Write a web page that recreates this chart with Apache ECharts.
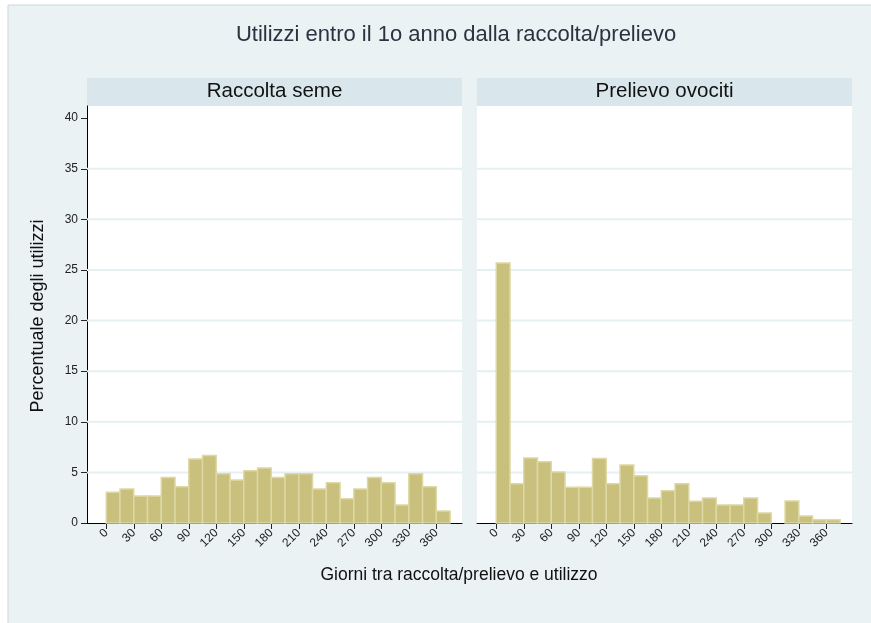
<!DOCTYPE html>
<html>
<head>
<meta charset="utf-8">
<title>Utilizzi entro il 1o anno dalla raccolta/prelievo</title>
<script src="https://cdn.jsdelivr.net/npm/echarts@6/dist/echarts.min.js"></script>
<style>
  html, body { margin: 0; padding: 0; background: #ffffff; }
  #chart { width: 871px; height: 623px; }
</style>
</head>
<body>
<div id="chart"></div>
<script>
// Histogram bins: 15-day bins starting at each value below (days)
const binStarts = [0, 15, 30, 45, 60, 75, 90, 105, 120, 135, 150, 165, 180,
                   195, 210, 225, 240, 255, 270, 285, 300, 315, 330, 345, 360];
const binWidth = 15;

// Percentage of uses per bin
const raccoltaSeme = [3.03, 3.36, 2.66, 2.66, 4.50, 3.59, 6.32, 6.68, 4.87, 4.24,
                      5.16, 5.43, 4.50, 4.87, 4.87, 3.36, 3.98, 2.40, 3.36, 4.50,
                      3.98, 1.78, 4.87, 3.59, 1.18];
const prelievoOvociti = [25.70, 3.88, 6.41, 6.05, 5.03, 3.52, 3.52, 6.38, 3.88, 5.72,
                         4.67, 2.47, 3.19, 3.88, 2.14, 2.47, 1.78, 1.78, 2.47, 0.99,
                         0, 2.17, 0.69, 0.33, 0.33];

const panelNames = ['Raccolta seme', 'Prelievo ovociti'];
const xTickValues = [0, 30, 60, 90, 120, 150, 180, 210, 240, 270, 300, 330, 360];
const yTickValues = [0, 5, 10, 15, 20, 25, 30, 35, 40];
const yGridValues = [5, 10, 15, 20, 25, 30, 35];

const FONT = '"Liberation Sans", Arial, Helvetica, sans-serif';
const BAR_FILL = '#c8c07c';
const BAR_EDGE = '#ddd8a4';
const GRID_LINE = '#e6eff1';
const BG = '#eaf2f3';
const STRIP = '#d9e6eb';

const chart = echarts.init(document.getElementById('chart'), null, { renderer: 'canvas' });

function toBins(values) {
  return binStarts.map((s, i) => [s, s + binWidth, values[i]]);
}

function renderBar(params, api) {
  const v = api.value(2);
  if (!v) return null;
  const p0 = api.coord([api.value(0), 0]);
  const p1 = api.coord([api.value(1), v]);
  return {
    type: 'rect',
    shape: { x: p0[0], y: p1[1], width: p1[0] - p0[0], height: p0[1] - p1[1] },
    style: { fill: BAR_FILL, stroke: BAR_EDGE, lineWidth: 1.5 }
  };
}

// Horizontal reference line across the whole plot region at a y value
function renderGridLine(params, api) {
  const cs = params.coordSys;
  const y = api.coord([0, api.value(0)])[1];
  return {
    type: 'line',
    shape: { x1: cs.x, y1: y, x2: cs.x + cs.width, y2: y },
    style: { stroke: GRID_LINE, lineWidth: 2 }
  };
}

const gridLefts = [87, 477];
const plotTop = 106, plotHeight = 417, plotWidth = 375;

function xAxisFor(i) {
  return {
    type: 'value', gridIndex: i, min: -21, max: 388,
    axisLine: { show: true, onZero: false, lineStyle: { color: '#000', width: 1 } },
    axisTick: { show: true, customValues: xTickValues, length: 6, lineStyle: { color: '#222' } },
    axisLabel: {
      show: true, customValues: xTickValues, rotate: 45, margin: 8,
      fontFamily: FONT, fontSize: 12, color: '#222'
    },
    splitLine: { show: false }
  };
}

function yAxisFor(i) {
  const left = i === 0;
  return {
    type: 'value', gridIndex: i, min: 0, max: 41.2, interval: 5,
    axisLine: { show: left, onZero: false, lineStyle: { color: '#000', width: 1 } },
    axisTick: { show: left, customValues: yTickValues, length: 6, lineStyle: { color: '#222' } },
    axisLabel: {
      show: left, customValues: yTickValues, margin: 9,
      fontFamily: FONT, fontSize: 12, color: '#222'
    },
    splitLine: { show: false }
  };
}

const graphics = [
  // graph region background
  { type: 'rect', z: -10, silent: true,
    shape: { x: 8, y: 5, width: 880, height: 640 },
    style: { fill: BG, stroke: '#cdd5d8', lineWidth: 1 } },
  // plot region backgrounds
  ...gridLefts.map(l => ({
    type: 'rect', z: -9, silent: true,
    shape: { x: l, y: plotTop, width: plotWidth, height: plotHeight },
    style: { fill: '#ffffff' }
  })),
  // panel header strips
  ...gridLefts.map((l, i) => ({
    type: 'group', z: -8, silent: true,
    children: [
      { type: 'rect', shape: { x: l, y: 78, width: plotWidth, height: 28 }, style: { fill: STRIP } },
      { type: 'text', style: {
          x: l + plotWidth / 2, y: 91, text: panelNames[i], align: 'center', verticalAlign: 'middle',
          fontFamily: FONT, fontSize: 20.5, fill: '#111' } }
    ]
  }))
];

const gridLineSeries = [0, 1].map(i => ({
  type: 'custom', xAxisIndex: i, yAxisIndex: i, z: 1, silent: true,
  renderItem: renderGridLine, encode: { y: 0 },
  data: yGridValues.map(v => [v])
}));

const option = {
  backgroundColor: '#ffffff',
  animation: false,
  title: [
    { text: 'Utilizzi entro il 1o anno dalla raccolta/prelievo', left: 451, top: 19, textAlign: 'center',
      textStyle: { fontFamily: FONT, fontSize: 22, fontWeight: 'normal', color: '#2a3340' } },
    { text: 'Giorni tra raccolta/prelievo e utilizzo', left: 454, top: 561, textAlign: 'center',
      textStyle: { fontFamily: FONT, fontSize: 17.5, fontWeight: 'normal', color: '#111' } }
  ],
  graphic: [
    ...graphics,
    { type: 'text', silent: true, rotation: Math.PI / 2, x: 38, y: 316,
      style: { text: 'Percentuale degli utilizzi', align: 'center', verticalAlign: 'middle',
               fontFamily: FONT, fontSize: 18, fill: '#111' } }
  ],
  grid: gridLefts.map(l => ({ left: l, top: plotTop, width: plotWidth, height: plotHeight, containLabel: false })),
  xAxis: [xAxisFor(0), xAxisFor(1)],
  yAxis: [yAxisFor(0), yAxisFor(1)],
  series: [
    ...gridLineSeries,
    { name: panelNames[0], type: 'custom', xAxisIndex: 0, yAxisIndex: 0, z: 2,
      renderItem: renderBar, encode: { x: [0, 1], y: 2 }, data: toBins(raccoltaSeme), silent: true },
    { name: panelNames[1], type: 'custom', xAxisIndex: 1, yAxisIndex: 1, z: 2,
      renderItem: renderBar, encode: { x: [0, 1], y: 2 }, data: toBins(prelievoOvociti), silent: true }
  ]
};

chart.setOption(option);
</script>
</body>
</html>
